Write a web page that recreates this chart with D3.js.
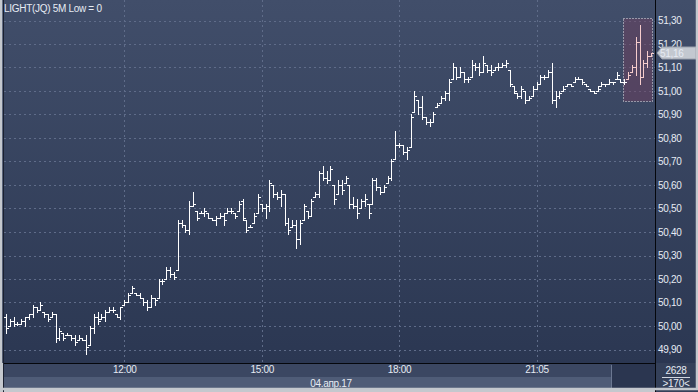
<!DOCTYPE html>
<html lang="en">
<head>
  <meta charset="UTF-8">
  <title>LIGHT(JQ) 5M</title>
  <style>
    * { margin: 0; padding: 0; box-sizing: border-box; }
    body { background: #c4c8ce; width: 698px; height: 392px; overflow: hidden; }
    svg { display: block; font-family: 'Liberation Sans', Arial, sans-serif; }
    .lbl { font-size: 10px; fill: #e6ebf3; letter-spacing: -0.3px; }
  </style>
  <script src="https://cdn.jsdelivr.net/npm/d3@7/dist/d3.min.js"></script>
</head>
<body>
  <svg id="chart" width="698" height="392"></svg>
  <script>
    // OHLC, 5 minute bars
    const opens = [
      50.04,50.00,50.02,50.01,50.01,50.02,50.04,50.05,50.08,50.07,
      50.06,50.05,50.04,50.05,49.95,49.97,49.96,49.96,49.95,49.94,
      49.95,49.94,49.92,49.99,50.04,50.03,50.04,50.06,50.07,50.05,
      50.04,50.09,50.10,50.14,50.14,50.13,50.12,50.10,50.08,50.12,
      50.12,50.19,50.20,50.24,50.22,50.24,50.44,50.43,50.41,50.51,
      50.49,50.48,50.48,50.48,50.46,50.45,50.46,50.47,50.48,50.49,
      50.48,50.49,50.53,50.45,50.42,50.44,50.48,50.52,50.50,50.51,
      50.60,50.56,50.55,50.56,50.44,50.42,50.43,50.37,50.45,50.49,
      50.47,50.55,50.56,50.65,50.63,50.62,50.60,50.56,50.60,50.61,
      50.60,50.52,50.51,50.50,50.53,50.52,50.52,50.62,50.59,50.57,
      50.61,50.63,50.71,50.77,50.77,50.74,50.76,50.91,50.96,50.93,
      50.89,50.87,50.87,50.93,50.95,50.97,50.99,51.05,51.10,51.06,
      51.08,51.05,51.06,51.11,51.10,51.08,51.11,51.09,51.09,51.10,
      51.10,51.11,51.09,51.02,50.99,50.98,51.00,50.96,50.98,51.01,
      51.03,51.06,51.06,51.08,50.96,50.98,51.00,51.02,51.03,51.04,
      51.05,51.05,51.03,51.01,51.00,51.00,51.02,51.03,51.03,51.04,
      51.05,51.05,51.04,51.05,51.08,51.10,51.21,51.06,51.12,51.15
    ];
    const highs = [
      50.05,50.03,50.04,50.015,50.03,50.04,50.05,50.09,50.08,50.10,
      50.06,50.05,50.06,50.05,49.99,49.97,49.97,49.96,49.96,49.96,
      49.95,49.96,50.00,50.05,50.06,50.05,50.07,50.08,50.08,50.05,
      50.08,50.11,50.14,50.17,50.14,50.14,50.12,50.11,50.13,50.12,
      50.20,50.20,50.25,50.25,50.23,50.45,50.45,50.43,50.53,50.57,
      50.49,50.49,50.50,50.48,50.46,50.47,50.48,50.48,50.50,50.50,
      50.48,50.53,50.54,50.45,50.43,50.48,50.56,50.52,50.52,50.62,
      50.60,50.57,50.58,50.56,50.46,50.45,50.45,50.45,50.52,50.49,
      50.54,50.57,50.66,50.68,50.66,50.68,50.60,50.62,50.62,50.64,
      50.60,50.55,50.54,50.54,50.56,50.52,50.63,50.63,50.59,50.60,
      50.64,50.71,50.83,50.78,50.77,50.76,50.90,51.00,50.96,50.98,
      50.89,50.88,50.91,50.95,50.98,51.00,51.05,51.12,51.10,51.10,
      51.08,51.06,51.13,51.12,51.12,51.15,51.11,51.11,51.10,51.12,
      51.12,51.13,51.09,51.02,50.99,51.02,51.00,50.98,51.02,51.04,
      51.07,51.07,51.09,51.12,51.00,51.00,51.02,51.03,51.03,51.06,
      51.06,51.05,51.03,51.01,51.00,51.02,51.04,51.03,51.05,51.04,
      51.08,51.05,51.05,51.08,51.11,51.23,51.28,51.13,51.17,51.16
    ];
    const lows = [
      49.97,50.00,50.00,50.005,50.01,50.00,50.03,50.04,50.06,50.07,
      50.04,50.02,50.04,49.93,49.94,49.94,49.96,49.94,49.92,49.94,
      49.94,49.88,49.92,49.97,50.01,50.03,50.02,50.06,50.06,50.04,
      50.03,50.09,50.10,50.14,50.13,50.12,50.09,50.07,50.08,50.09,
      50.12,50.18,50.20,50.21,50.20,50.24,50.42,50.40,50.39,50.51,
      50.45,50.48,50.47,50.46,50.45,50.43,50.46,50.43,50.48,50.48,
      50.46,50.49,50.45,50.40,50.42,50.44,50.48,50.49,50.46,50.49,
      50.55,50.54,50.51,50.43,50.39,50.42,50.33,50.35,50.45,50.46,
      50.47,50.55,50.55,50.62,50.61,50.62,50.52,50.56,50.56,50.61,
      50.50,50.50,50.46,50.50,50.51,50.46,50.52,50.58,50.56,50.57,
      50.61,50.62,50.71,50.76,50.73,50.71,50.76,50.91,50.90,50.88,
      50.86,50.85,50.87,50.93,50.95,50.96,50.96,51.05,51.05,51.06,
      51.04,51.04,51.06,51.09,51.07,51.08,51.08,51.07,51.09,51.09,
      51.10,51.10,51.02,50.99,50.97,50.97,50.95,50.96,50.98,51.01,
      51.03,51.05,51.06,50.95,50.93,50.97,51.00,51.02,51.02,51.04,
      51.05,51.03,51.02,51.00,50.99,51.00,51.02,51.02,51.03,51.03,
      51.05,51.04,51.03,51.05,51.08,51.07,51.03,51.06,51.10,51.15
    ];
    const closes = [
      49.99,50.02,50.01,50.01,50.02,50.04,50.05,50.08,50.07,50.09,
      50.05,50.03,50.05,49.95,49.98,49.95,49.96,49.95,49.93,49.95,
      49.94,49.91,49.99,50.04,50.02,50.04,50.06,50.07,50.07,50.04,
      50.08,50.10,50.13,50.16,50.13,50.12,50.10,50.08,50.12,50.11,
      50.19,50.19,50.24,50.22,50.21,50.44,50.43,50.41,50.51,50.52,
      50.46,50.48,50.49,50.46,50.45,50.46,50.47,50.45,50.49,50.49,
      50.47,50.52,50.46,50.41,50.42,50.47,50.55,50.50,50.51,50.61,
      50.56,50.55,50.56,50.44,50.41,50.43,50.37,50.44,50.51,50.47,
      50.53,50.56,50.65,50.63,50.62,50.67,50.54,50.60,50.58,50.63,
      50.52,50.51,50.48,50.53,50.54,50.48,50.62,50.59,50.57,50.59,
      50.63,50.70,50.77,50.77,50.74,50.75,50.89,50.98,50.93,50.89,
      50.87,50.87,50.90,50.94,50.97,50.99,51.04,51.10,51.06,51.08,
      51.05,51.05,51.11,51.10,51.08,51.12,51.09,51.08,51.10,51.10,
      51.11,51.12,51.03,51.00,50.98,51.01,50.96,50.97,51.01,51.03,
      51.06,51.06,51.08,50.96,50.98,50.99,51.01,51.03,51.02,51.05,
      51.05,51.04,51.02,51.00,50.99,51.01,51.03,51.03,51.04,51.04,
      51.07,51.04,51.04,51.07,51.10,51.21,51.06,51.12,51.15,51.16
    ];

    const yTicks = [49.9, 50.0, 50.1, 50.2, 50.3, 50.4, 50.5, 50.6, 50.7, 50.8, 50.9, 51.0, 51.1, 51.2, 51.3];
    const timeTickIdx = [31, 67, 103, 139];
    const timeTickLabels = ['12:00', '15:00', '18:00', '21:05'];
    const dateLabel = '04.апр.17';
    const title = 'LIGHT(JQ) 5M Low = 0';
    const lastPrice = 51.16;
    const barsTotal = '2628';
    const barsShown = '>170<';
    const selStart = 163;            // first highlighted bar
    const selRange = [50.955, 51.31]; // price span of the selection box

    const bars = opens.map((o, i) => ({ i, o, h: highs[i], l: lows[i], c: closes[i] }));

    const W = 698, H = 392;
    const plotR = 655, plotB = 363;

    const svg = d3.select('#chart');
    const defs = svg.append('defs');
    const grad = defs.append('linearGradient').attr('id', 'bg').attr('x1', 0).attr('y1', 0).attr('x2', 0).attr('y2', 1);
    grad.append('stop').attr('offset', '0%').attr('stop-color', '#414e6a');
    grad.append('stop').attr('offset', '100%').attr('stop-color', '#2b3752');

    const x = d3.scaleLinear().domain([0, bars.length - 1]).range([6, 651]);
    const y = d3.scaleLinear().domain([49.9, 51.3]).range([349.5, 20.5]);
    const px = v => Math.round(v) + 0.5;

    // backgrounds
    svg.append('rect').attr('x', 0).attr('y', 0).attr('width', W).attr('height', plotB).attr('fill', 'url(#bg)');
    svg.append('rect').attr('x', 3).attr('y', plotB).attr('width', plotR - 3).attr('height', 14).attr('fill', '#3b4762');
    svg.append('rect').attr('x', 3).attr('y', plotB + 14).attr('width', plotR - 3).attr('height', 13).attr('fill', '#4f5c77');
    svg.append('rect').attr('x', 612).attr('y', plotB + 1).attr('width', plotR - 612).attr('height', 26).attr('fill', '#2b3650');
    svg.append('line').attr('x1', 611.5).attr('x2', 611.5).attr('y1', plotB + 2).attr('y2', plotB + 26).attr('stroke', '#6b7791');
    svg.append('rect').attr('x', plotR).attr('y', plotB).attr('width', W - plotR).attr('height', H - plotB).attr('fill', '#344059');

    // grid
    const grid = svg.append('g').attr('stroke', '#5f6c89').attr('stroke-dasharray', '2,3').attr('stroke-width', 1);
    grid.selectAll('.hg').data(yTicks).join('line')
      .attr('x1', 4).attr('x2', plotR).attr('y1', d => px(y(d))).attr('y2', d => px(y(d)));
    grid.selectAll('.vg').data(timeTickIdx).join('line')
      .attr('x1', d => px(x(d))).attr('x2', d => px(x(d))).attr('y1', 0).attr('y2', plotB);

    // selection box
    svg.append('rect')
      .attr('x', Math.round(x(selStart)) - 4.5)
      .attr('y', px(y(selRange[1])))
      .attr('width', Math.round(x(bars.length - 1)) - Math.round(x(selStart)) + 6)
      .attr('height', Math.round(y(selRange[0]) - y(selRange[1])))
      .attr('fill', 'rgba(120,62,92,0.42)')
      .attr('stroke', '#e8e8ee').attr('stroke-dasharray', '1,2');

    // OHLC bars
    const g = svg.append('g').attr('stroke-width', 1);
    const barG = g.selectAll('g').data(bars).join('g')
      .attr('stroke', d => d.i >= selStart ? '#f6cccc' : '#ffffff');
    barG.append('line')
      .attr('x1', d => px(x(d.i))).attr('x2', d => px(x(d.i)))
      .attr('y1', d => Math.round(y(d.h))).attr('y2', d => Math.max(Math.round(y(d.l)), Math.round(y(d.h)) + 1) + 1);
    barG.append('line')
      .attr('x1', d => Math.round(x(d.i)) - 2).attr('x2', d => Math.round(x(d.i)))
      .attr('y1', d => px(y(d.o))).attr('y2', d => px(y(d.o)));
    barG.append('line')
      .attr('x1', d => Math.round(x(d.i)) + 1).attr('x2', d => Math.round(x(d.i)) + 3)
      .attr('y1', d => px(y(d.c))).attr('y2', d => px(y(d.c)));

    // frame lines
    svg.append('line').attr('x1', plotR + 0.5).attr('x2', plotR + 0.5).attr('y1', 0).attr('y2', H).attr('stroke', '#05070c');
    svg.append('line').attr('x1', 3).attr('x2', plotR).attr('y1', plotB + 0.5).attr('y2', plotB + 0.5).attr('stroke', '#05070c');
    svg.append('line').attr('x1', 3.5).attr('x2', 3.5).attr('y1', 0).attr('y2', H).attr('stroke', '#1a2030');

    // y axis
    const yAxis = svg.append('g').attr('class', 'lbl').attr('transform', `translate(${plotR + 1},0)`)
      .call(d3.axisRight(y).tickValues(yTicks).tickSize(0).tickPadding(2)
        .tickFormat(d => d.toFixed(2).replace('.', ',')));
    yAxis.select('.domain').remove();
    yAxis.selectAll('text').attr('class', 'lbl').attr('fill', '#e6ebf3').style('font-size', '10px').style('font-family', "'Liberation Sans', Arial, sans-serif");

    // x axis
    const xAxis = svg.append('g').attr('transform', `translate(0,${plotB + 3})`)
      .call(d3.axisBottom(x).tickValues(timeTickIdx).tickSize(0).tickPadding(0)
        .tickFormat((d, i) => timeTickLabels[i]));
    xAxis.select('.domain').remove();
    xAxis.selectAll('text').attr('class', 'lbl').attr('fill', '#e6ebf3').style('font-size', '10px').style('font-family', "'Liberation Sans', Arial, sans-serif");

    svg.append('text').attr('class', 'lbl').attr('x', (3 + plotR) / 2 + 2).attr('y', 387).attr('text-anchor', 'middle').text(dateLabel);

    // title
    svg.append('text').attr('class', 'lbl').attr('x', 4).attr('y', 12).attr('fill', '#ffffff').text(title);

    // last price marker
    const ly = Math.round(y(lastPrice));
    svg.append('path')
      .attr('d', `M${plotR + 2},${ly} L${plotR + 7},${ly - 6} H${W - 2} V${ly + 6} H${plotR + 7} Z`)
      .attr('fill', '#c3c8d0').attr('stroke', '#9aa1ad');
    svg.append('text').attr('class', 'lbl').attr('x', plotR + 5).attr('y', ly + 4).attr('fill', '#1d2436').text(lastPrice.toFixed(2).replace('.', ','));

    // bars count cell
    svg.append('text').attr('class', 'lbl').attr('x', 676).attr('y', 374).attr('text-anchor', 'middle').text(barsTotal);
    svg.append('line').attr('x1', 662).attr('x2', 690).attr('y1', 377.5).attr('y2', 377.5).attr('stroke', '#d0d6e0');
    svg.append('text').attr('class', 'lbl').attr('x', 676).attr('y', 387).attr('text-anchor', 'middle').text(barsShown);

    // outer light border
    svg.append('rect').attr('x', 1).attr('y', -2).attr('width', W - 2).attr('height', H - 1)
      .attr('fill', 'none').attr('stroke', '#c4c8ce').attr('stroke-width', 2.5);
  </script>
</body>
</html>
